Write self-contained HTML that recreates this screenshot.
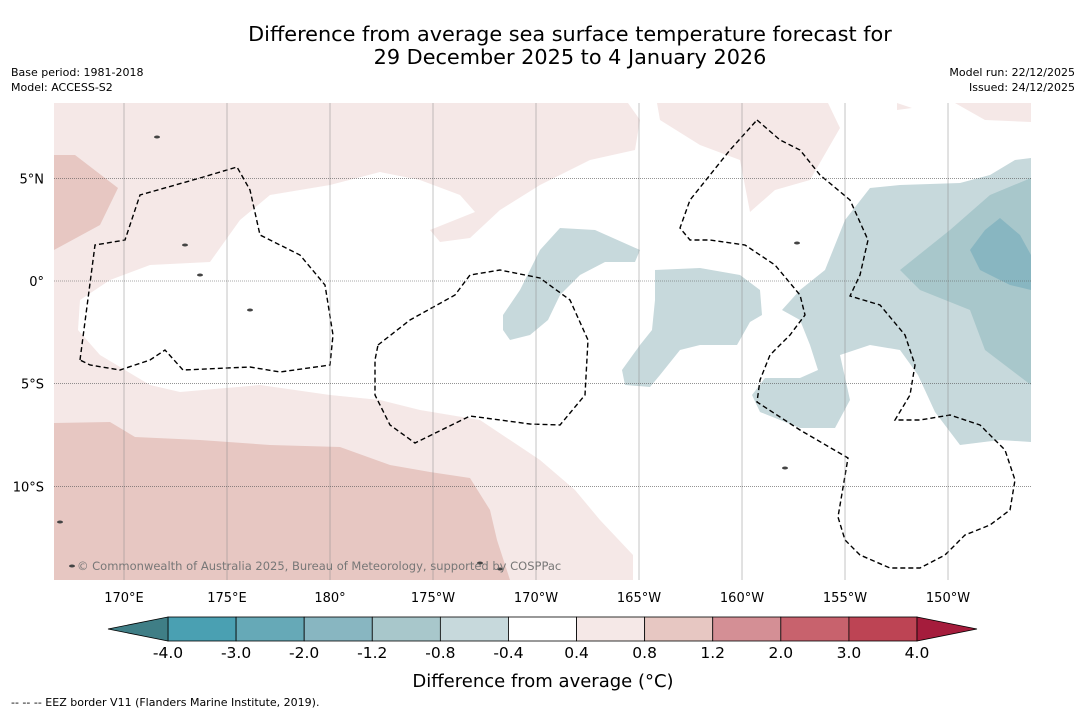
<!DOCTYPE html>
<html><head><meta charset="utf-8">
<style>
body{margin:0;background:#fff;font-family:"DejaVu Sans",sans-serif;}
svg text{font-family:"DejaVu Sans","Liberation Sans",sans-serif;}
</style></head>
<body>
<svg id="c" width="1085" height="713" xmlns="http://www.w3.org/2000/svg">
<rect width="1085" height="713" fill="#fff"/>
<text x="570" y="41" font-size="20.8" text-anchor="middle">Difference from average sea surface temperature forecast for</text>
<text x="570" y="64" font-size="20.8" text-anchor="middle">29 December 2025 to 4 January 2026</text>
<text x="11" y="76" font-size="11">Base period: 1981-2018</text>
<text x="11" y="91" font-size="11">Model: ACCESS-S2</text>
<text x="1075" y="76" font-size="11" text-anchor="end">Model run: 22/12/2025</text>
<text x="1075" y="91" font-size="11" text-anchor="end">Issued: 24/12/2025</text>
<g id="map"></g>
<g id="cb"></g>
<text x="543" y="687" font-size="18" text-anchor="middle">Difference from average (°C)</text>
<text x="11" y="706" font-size="11">--   --   -- EEZ border V11 (Flanders Marine Institute, 2019).</text>
</svg>
<script>
const lonTicks=[170,175,180,185,190,195,200,205,210];
const lonLabels=["170°E","175°E","180°","175°W","170°W","165°W","160°W","155°W","150°W"];
const latTicks=[5,0,-5,-10];
const latLabels=["5°N","0°","5°S","10°S"];
const cbLevels=[-4.0,-3.0,-2.0,-1.2,-0.8,-0.4,0.4,0.8,1.2,2.0,3.0,4.0];
const cbLabels=["-4.0","-3.0","-2.0","-1.2","-0.8","-0.4","0.4","0.8","1.2","2.0","3.0","4.0"];
const cbColors=["#4aa0b2","#66a9b7","#88b6c1","#a8c7cb","#c7d9dc","#ffffff","#f5e8e7","#e7c7c2","#d48f95","#c8626d","#bd4454"];
const cbLow="#3f7e86", cbHigh="#a51c3c";

const NS="http://www.w3.org/2000/svg";
const X0=54,X1=1031,Y0=103,Y1=580;
const lonX=l=>124+(l-170)*20.6;
const latY=l=>281-l*20.54;
function el(t,a,p){const e=document.createElementNS(NS,t);for(const k in a)e.setAttribute(k,a[k]);p.appendChild(e);return e;}
const map=document.getElementById('map');
const cp=el('clipPath',{id:'mc'},map);el('rect',{x:X0,y:Y0,width:X1-X0,height:Y1-Y0},cp);
const g=el('g',{'clip-path':'url(#mc)'},map);



const shapes=[
 ["#f5e8e7","warm-band-north",[[54,103],[628,103],[640,120],[635,150],[590,160],[540,185],[500,210],[470,238],[440,242],[430,230],[475,212],[460,195],[420,180],[380,172],[330,185],[270,195],[240,220],[210,262],[150,265],[110,280],[80,300],[78,330],[100,355],[150,385],[180,392],[260,385],[330,395],[380,400],[420,410],[480,420],[540,460],[575,490],[600,520],[633,555],[633,580],[54,580]]],
 ["#e7c7c2","warm-south",[[54,423],[110,422],[135,437],[200,440],[270,445],[340,447],[390,465],[430,472],[470,478],[490,510],[497,540],[510,580],[54,580]]],
 ["#e7c7c2","warm-northwest",[[54,155],[75,155],[118,188],[100,225],[54,250]]],
 ["#f5e8e7","warm-northeast",[[657,103],[660,120],[700,145],[740,160],[750,212],[775,190],[810,180],[840,128],[828,103]]],
 ["#f5e8e7","warm-ne-small",[[897,103],[912,108],[897,110]]],
 ["#f5e8e7","warm-ne-corner",[[955,103],[985,120],[1031,122],[1031,103]]],
 ["#c7d9dc","cool-patch-a",[[503,315],[520,290],[540,250],[560,228],[595,230],[640,250],[635,262],[605,262],[580,275],[560,295],[548,320],[530,335],[510,340],[503,330]]],
 ["#c7d9dc","cool-patch-b",[[655,270],[700,268],[740,275],[760,290],[762,315],[750,322],[737,345],[700,345],[680,350],[660,375],[650,387],[625,385],[622,370],[640,345],[652,330],[655,300]]],
 ["#c7d9dc","cool-east",[[1031,158],[1015,160],[990,175],[960,183],[900,185],[870,188],[845,220],[825,270],[800,290],[782,310],[800,320],[810,345],[818,370],[800,378],[765,378],[752,395],[760,412],[800,428],[835,428],[850,400],[840,355],[870,345],[900,350],[918,375],[935,412],[960,445],[1000,440],[1031,442]]],
 ["#a8c7cb","cool-east-mid",[[1031,178],[990,195],[950,230],[900,270],[920,290],[970,310],[985,350],[1031,385]]],
 ["#88b6c1","cool-east-core",[[1000,218],[1020,235],[1031,255],[1031,290],[1010,285],[980,270],[970,250],[985,230]]]
];
shapes.forEach(s=>{
 const p=el('polygon',{points:s[2].map(q=>q.join(',')).join(' '),fill:s[0]},g);
 
 
});
lonTicks.forEach((l,i)=>{
 const x=lonX(l);
 const ln=el('line',{x1:x,y1:Y0,x2:x,y2:Y1,stroke:'#888','stroke-width':0.5},map);
 
 
 const t=el('text',{x:x,y:602,'font-size':13,'text-anchor':'middle'},map);t.textContent=lonLabels[i];
 
 
});
latTicks.forEach((l,i)=>{
 const y=latY(l);
 const ln=el('line',{x1:X0,y1:y,x2:X1,y2:y,stroke:'#555','stroke-width':0.6,'stroke-dasharray':'1,1'},map);
 
 
 const t=el('text',{x:44,y:y+5,'font-size':13,'text-anchor':'end'},map);t.textContent=latLabels[i];
 
 
});
const eez=[
 [[80,360],[95,245],[125,240],[140,195],[200,178],[237,167],[250,190],[260,235],[300,255],[325,285],[333,335],[330,365],[280,372],[250,367],[183,370],[165,350],[150,360],[120,370],[90,365],[80,360]],
 [[378,345],[410,320],[455,295],[470,275],[500,270],[540,278],[570,300],[588,340],[585,395],[560,425],[530,424],[470,416],[415,443],[390,425],[375,395],[375,360],[378,345]],
 [[757,120],[780,140],[800,150],[820,175],[850,200],[868,240],[860,275],[850,296],[880,305],[905,335],[915,365],[910,395],[895,420],[920,420],[950,415],[980,425],[1005,450],[1015,480],[1010,510],[990,525],[965,535],[945,555],[920,568],[890,568],[860,555],[845,540],[838,517],[848,458],[800,430],[757,402],[760,380],[770,355],[790,335],[805,315],[800,295],[775,265],[745,245],[710,240],[690,240],[680,228],[690,200],[730,150],[757,120]]
];
eez.forEach(p=>{
 const l=el('polyline',{points:p.map(q=>q.join(',')).join(' '),fill:'none',stroke:'#000','stroke-width':1.4,'stroke-dasharray':'5,3'},g);
 
 
});
[[157,137],[185,245],[200,275],[250,310],[480,563],[500,569],[785,468],[797,243],[60,522],[72,566]].forEach(q=>{
 const c=el('ellipse',{cx:q[0],cy:q[1],rx:3,ry:1.5,fill:'#444'},g);
 
 
});
const cr=el('text',{x:77,y:570,'font-size':11.5,fill:'#777'},map);cr.textContent="© Commonwealth of Australia 2025, Bureau of Meteorology, supported by COSPPac";



const cb=document.getElementById('cb');
const CB0=168,CB1=917,cy0=617,cy1=641;
const n=cbLevels.length-1;
const cbX=i=>CB0+(CB1-CB0)*i/n;
cbColors.forEach((c,i)=>{
 const r=el('rect',{x:cbX(i),y:cy0,width:cbX(i+1)-cbX(i),height:cy1-cy0,fill:c,stroke:'#000','stroke-width':0.8},cb);
 
 
});
const lo=el('polygon',{points:`${CB0},${cy0} 108,629 ${CB0},${cy1}`,fill:cbLow,stroke:'#000','stroke-width':0.8},cb);


const hi=el('polygon',{points:`${CB1},${cy0} 977,629 ${CB1},${cy1}`,fill:cbHigh,stroke:'#000','stroke-width':0.8},cb);


cbLabels.forEach((s,i)=>{
 const t=el('text',{x:cbX(i),y:658,'font-size':15.5,'text-anchor':'middle'},cb);t.textContent=s;
 
 
});
</script>
</body></html>
